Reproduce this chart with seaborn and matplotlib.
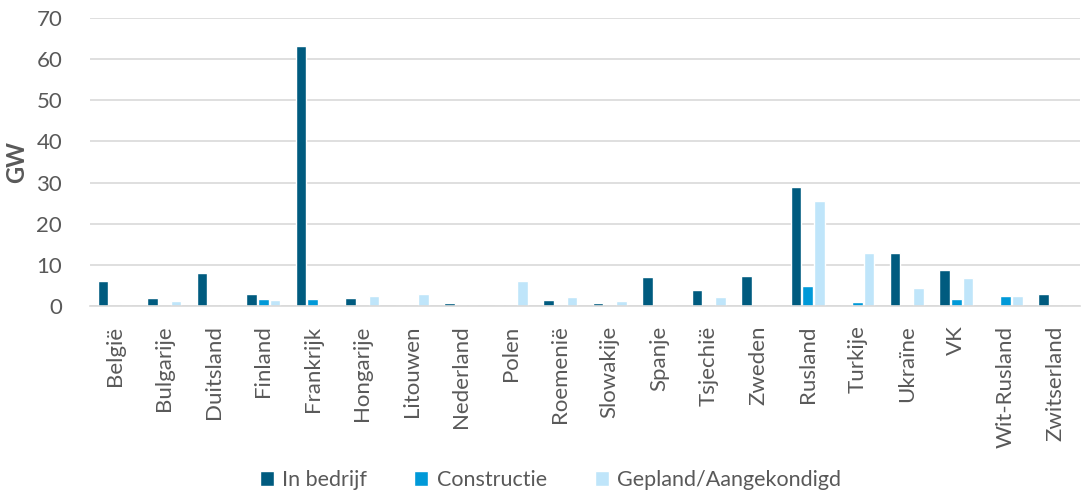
import matplotlib.pyplot as plt
import pandas as pd
import seaborn as sns

landen = ['België', 'Bulgarije', 'Duitsland', 'Finland', 'Frankrijk', 'Hongarije', 'Litouwen',
          'Nederland', 'Polen', 'Roemenië', 'Slowakije', 'Spanje', 'Tsjechië', 'Zweden',
          'Rusland', 'Turkije', 'Ukraïne', 'VK', 'Wit-Rusland', 'Zwitserland']
in_bedrijf = [6.0, 2.0, 8.1, 2.8, 63.2, 2.0, 0, 0.7, 0, 1.4, 0.8, 7.0, 3.9, 7.4, 29.0, 0, 13.0, 8.8, 0, 3.0]
constructie = [0, 0, 0, 1.8, 1.8, 0, 0, 0, 0, 0, 0, 0, 0, 0, 4.8, 1.0, 0, 1.8, 2.4, 0]
gepland = [0, 1.1, 0, 1.4, 0, 2.4, 2.8, 0, 6.0, 2.2, 1.1, 0, 2.3, 0, 25.6, 13.0, 4.3, 6.9, 2.4, 0]
series = ['In bedrijf', 'Constructie', 'Gepland/Aangekondigd']
kleuren = ['#005B7F', '#0099D8', '#BFE5FA']

df = pd.DataFrame({'land': landen, series[0]: in_bedrijf, series[1]: constructie, series[2]: gepland})
df = df.melt(id_vars='land', var_name='status', value_name='GW')

sns.set_style('white')
plt.rcParams['font.family'] = ['Lato', 'DejaVu Sans']
grijs = '#595959'

fig = plt.figure(figsize=(10.89, 4.92), dpi=100)
ax = fig.add_axes([90 / 1089, 1 - 306 / 492, 990 / 1089, 288 / 492])
sns.barplot(data=df, x='land', y='GW', hue='status', palette=kleuren, width=0.72, gap=0.1,
            saturation=1, ax=ax)

ax.set_ylim(0, 70)
ax.set_xlim(-0.5, len(landen) - 0.5)
ax.set_yticks(range(0, 71, 10))
ax.yaxis.grid(True, color='#d9d9d9', linewidth=1.2)
ax.set_axisbelow(True)
for s in ['top', 'right', 'left']:
    ax.spines[s].set_visible(False)
ax.spines['bottom'].set_color('#d9d9d9')
ax.spines['bottom'].set_linewidth(1.2)
ax.tick_params(axis='both', length=0, colors=grijs)
ax.tick_params(axis='y', labelsize=16, pad=20)
ax.tick_params(axis='x', labelsize=16, pad=14)
plt.setp(ax.get_xticklabels(), rotation=90)
ax.set_xlabel('')
ax.set_ylabel('GW', fontsize=17, color=grijs, fontweight='bold', labelpad=6)

ax.legend(loc='center', bbox_to_anchor=(0.465, -0.605), ncol=3, frameon=False,
          fontsize=15.5, labelcolor=grijs, handlelength=0.65, handleheight=0.65, handletextpad=0.4,
          columnspacing=2.2)

plt.savefig('out.png', dpi=100)
